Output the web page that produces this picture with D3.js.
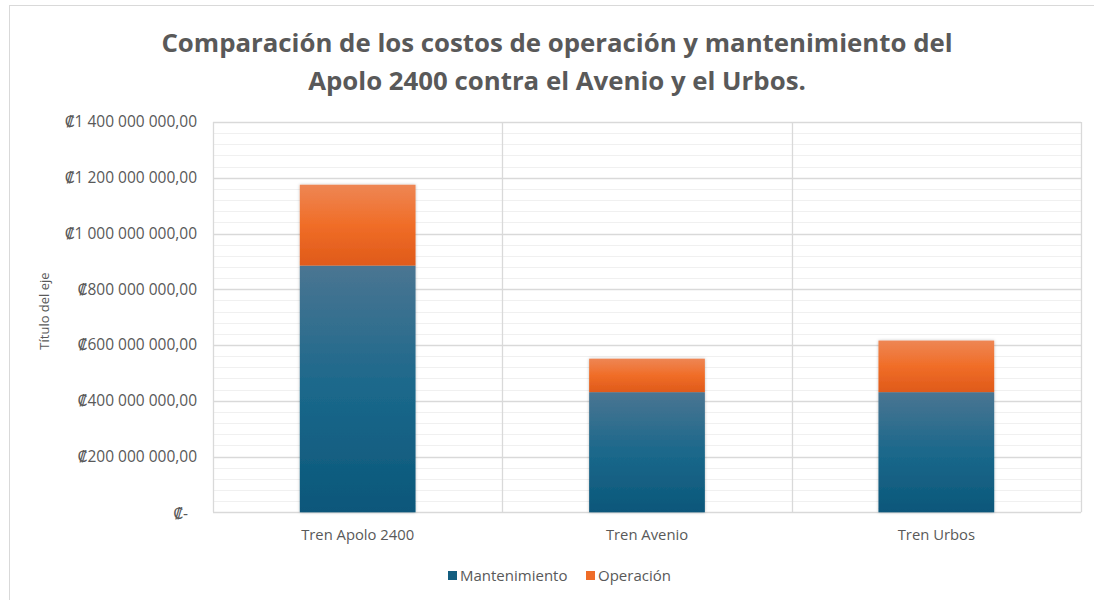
<!DOCTYPE html>
<html lang="es">
	<head>
		<meta charset="UTF-8">
		<title>Costos</title>
		<script src="https://cdnjs.cloudflare.com/ajax/libs/d3/7.8.5/d3.min.js"></script>
		<style>
			body { margin: 0; background: #fff; }
			text { font-family: "Open Sans", "DejaVu Sans", sans-serif; fill: #595959; }
		</style>
		<script>
var categories = ["Tren Apolo 2400", "Tren Avenio", "Tren Urbos"];
var seriesNames = ["Mantenimiento", "Operación"];
var mantenimiento = [885000000, 431000000, 431000000];
var operacion = [290000000, 120000000, 185000000];
var yTicks = [0, 200000000, 400000000, 600000000, 800000000, 1000000000, 1200000000, 1400000000];
var titleLines = ["Comparación de los costos de operación y mantenimiento del", "Apolo 2400 contra el Avenio y el Urbos."];

function draw() {
	var svg = d3.select("svg");
	var left = 213, right = 1081, top = 122, bottom = 512.3;

	var scX = d3.scaleBand().domain(categories).range([left, right]).paddingInner(0.6).paddingOuter(0.3);
	var scBand = d3.scaleBand().domain(categories).range([left, right]);
	var scY = d3.scaleLinear().domain([0, 1400000000]).range([bottom, top]);

	// chart frame
	svg.append("rect").attr("x", 9.5).attr("y", 5.5).attr("width", 1100).attr("height", 620)
		.attr("fill", "#fff").attr("stroke", "#d9d9d9");

	var defs = svg.append("defs");
	var mkGrad = (id, stops) => {
		var g = defs.append("linearGradient").attr("id", id).attr("x1", 0).attr("y1", 0).attr("x2", 0).attr("y2", 1);
		stops.forEach(s => g.append("stop").attr("offset", s[0]).attr("stop-color", s[1]));
	};
	mkGrad("gMant", [[0, "#4a7592"], [0.5, "#1b688b"], [1, "#0b577a"]]);
	mkGrad("gOper", [[0, "#ee8654"], [0.5, "#f06d27"], [1, "#df5a1a"]]);
	var f = defs.append("filter").attr("id", "shadow").attr("x", -0.1).attr("y", -0.1).attr("width", 1.2).attr("height", 1.2);
	f.append("feDropShadow").attr("dx", 0).attr("dy", 0).attr("stdDeviation", 1.5).attr("flood-color", "#000").attr("flood-opacity", 0.25);

	// minor gridlines
	var minor = d3.range(0, 1400000001, 40000000);
	svg.append("g").selectAll("line").data(minor).enter().append("line")
		.attr("x1", left).attr("x2", right)
		.attr("y1", d => Math.round(scY(d)) + 0.5).attr("y2", d => Math.round(scY(d)) + 0.5)
		.attr("stroke", "#f0f0f0").attr("stroke-width", 1);

	// major gridlines
	svg.append("g").selectAll("line").data(yTicks).enter().append("line")
		.attr("x1", left).attr("x2", right)
		.attr("y1", d => Math.round(scY(d)) + 0.5).attr("y2", d => Math.round(scY(d)) + 0.5)
		.attr("stroke", "#d9d9d9").attr("stroke-width", 1.3);

	// vertical separators and plot border
	var seps = [left, scBand("Tren Avenio"), scBand("Tren Urbos"), right];
	svg.append("g").selectAll("line").data(seps).enter().append("line")
		.attr("x1", d => Math.round(d) + 0.5).attr("x2", d => Math.round(d) + 0.5)
		.attr("y1", top).attr("y2", bottom)
		.attr("stroke", "#d9d9d9").attr("stroke-width", 1.3);

	// stacked bars
	var rows = categories.map((c, i) => ({cat: c, Mantenimiento: mantenimiento[i], "Operación": operacion[i]}));
	var stacked = d3.stack().keys(seriesNames)(rows);
	var fills = {"Mantenimiento": "url(#gMant)", "Operación": "url(#gOper)"};
	svg.append("g").attr("filter", "url(#shadow)").selectAll("g").data(stacked).enter().append("g")
		.attr("fill", d => fills[d.key])
		.selectAll("rect").data(d => d).enter().append("rect")
		.attr("x", d => scX(d.data.cat))
		.attr("width", scX.bandwidth())
		.attr("y", d => scY(d[1]))
		.attr("height", d => scY(d[0]) - scY(d[1]));

	// y axis labels
	var fmt = v => v === 0 ? "₡-" : "₡" + d3.format(",.2f")(v).replace(/,/g, " ").replace(".", ",");
	var axY = d3.axisLeft(scY).tickValues(yTicks).tickSize(0).tickPadding(16).tickFormat(fmt);
	var gy = svg.append("g").attr("transform", `translate(${left},0)`).call(axY);
	gy.select(".domain").remove();
	gy.selectAll("text").attr("font-size", 15.5).attr("fill", "#595959").style("font-family", "'Open Sans', 'DejaVu Sans', sans-serif");
	gy.selectAll(".tick").filter(d => d === 0).select("text").attr("dx", -9).attr("dy", "0.4em");

	// x axis labels
	var axX = d3.axisBottom(scBand).tickSize(0).tickPadding(17);
	var gx = svg.append("g").attr("transform", `translate(0,${bottom})`).call(axX);
	gx.select(".domain").remove();
	gx.selectAll("text").attr("font-size", 14.8).attr("fill", "#595959").style("font-family", "'Open Sans', 'DejaVu Sans', sans-serif");

	// axis title
	svg.append("text").attr("transform", "translate(49,311) rotate(-90)")
		.attr("text-anchor", "middle").attr("font-size", 13).text("Título del eje");

	// title
	svg.append("g").selectAll("text").data(titleLines).enter().append("text")
		.attr("x", 557).attr("y", (d, i) => 52 + i * 38)
		.attr("text-anchor", "middle").attr("font-size", 25.8).attr("font-weight", "bold")
		.text(d => d);

	// legend
	var legX = [448, 586];
	var leg = svg.append("g").selectAll("g").data(seriesNames).enter().append("g")
		.attr("transform", (d, i) => `translate(${legX[i]},576)`);
	leg.append("rect").attr("x", 0).attr("y", -5).attr("width", 9).attr("height", 9)
		.attr("fill", (d, i) => i === 0 ? "#135e80" : "#ef6c28");
	leg.append("text").attr("x", 12).attr("y", 5).attr("font-size", 15).text(d => d);
}
		</script>
	</head>
	<body onload="draw()">
		<svg width="1094" height="600"></svg>
	</body>
</html>
